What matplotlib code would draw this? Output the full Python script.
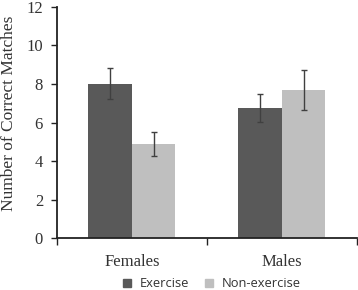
import numpy as np
import matplotlib.pyplot as plt
from matplotlib.lines import Line2D

# ============================================================
#  Data
# ============================================================

groups        = ["Females", "Males"]
exercise      = [8.02, 6.75]
exercise_err  = [0.82, 0.71]
nonex         = [4.88, 7.69]
nonex_err     = [0.62, 1.05]
series_labels = ["Exercise", "Non-exercise"]

DARK  = "#595959"
LIGHT = "#bfbfbf"
ERR   = "#404040"
SERIF = "Liberation Serif"
SANS  = "Open Sans"

# ============================================================
#  Plot
# ============================================================

fig = plt.figure(figsize=(3.58, 2.90), dpi=100)
ax = fig.add_axes([0.159, 0.179, 0.838, 0.797])

x = np.arange(len(groups))
w = 0.29
ekw = dict(ecolor=ERR, elinewidth=1.0, capsize=2.5, capthick=1.0)

ax.bar(x - w / 2, exercise, w, yerr=exercise_err, color=DARK, error_kw=ekw)
ax.bar(x + w / 2, nonex, w, yerr=nonex_err, color=LIGHT, error_kw=ekw)

ax.set_xlim(-0.5, len(groups) - 0.5)
ax.set_ylim(0, 12)
ax.set_yticks(range(0, 13, 2))
ax.set_xticks(np.arange(-0.5, len(groups), 1.0))
ax.set_xticklabels([])
ax.tick_params(axis="x", direction="out", length=5, width=1.0, color="#222222")
ax.tick_params(axis="y", direction="out", length=4, width=1.0, color="#222222",
               labelsize=12, pad=6)
for t in ax.get_yticklabels():
    t.set_family(SERIF)
    t.set_color("#333333")

for i, g in enumerate(groups):
    ax.text(i, -0.85, g, ha="center", va="top", fontsize=12, family=SERIF,
            color="#333333", transform=ax.transData)

ax.set_ylabel("Number of Correct Matches", fontsize=12.5, family=SERIF,
              color="#333333")
ax.yaxis.set_label_coords(-0.133, 0.54)

for side in ("top", "right"):
    ax.spines[side].set_visible(False)
for side in ("left", "bottom"):
    ax.spines[side].set_linewidth(1.3)
    ax.spines[side].set_color("#222222")

handles = [Line2D([], [], marker="s", linestyle="none", markersize=6,
                  markerfacecolor=c, markeredgecolor=c) for c in (DARK, LIGHT)]
fig.legend(handles, series_labels, loc="center", bbox_to_anchor=(0.59, 0.022),
           ncol=2, frameon=False, handlelength=0.8, handletextpad=0.6,
           columnspacing=1.1, prop={"family": SANS, "size": 9.3},
           labelcolor="#333333")

fig.savefig("out.png", dpi=100)
